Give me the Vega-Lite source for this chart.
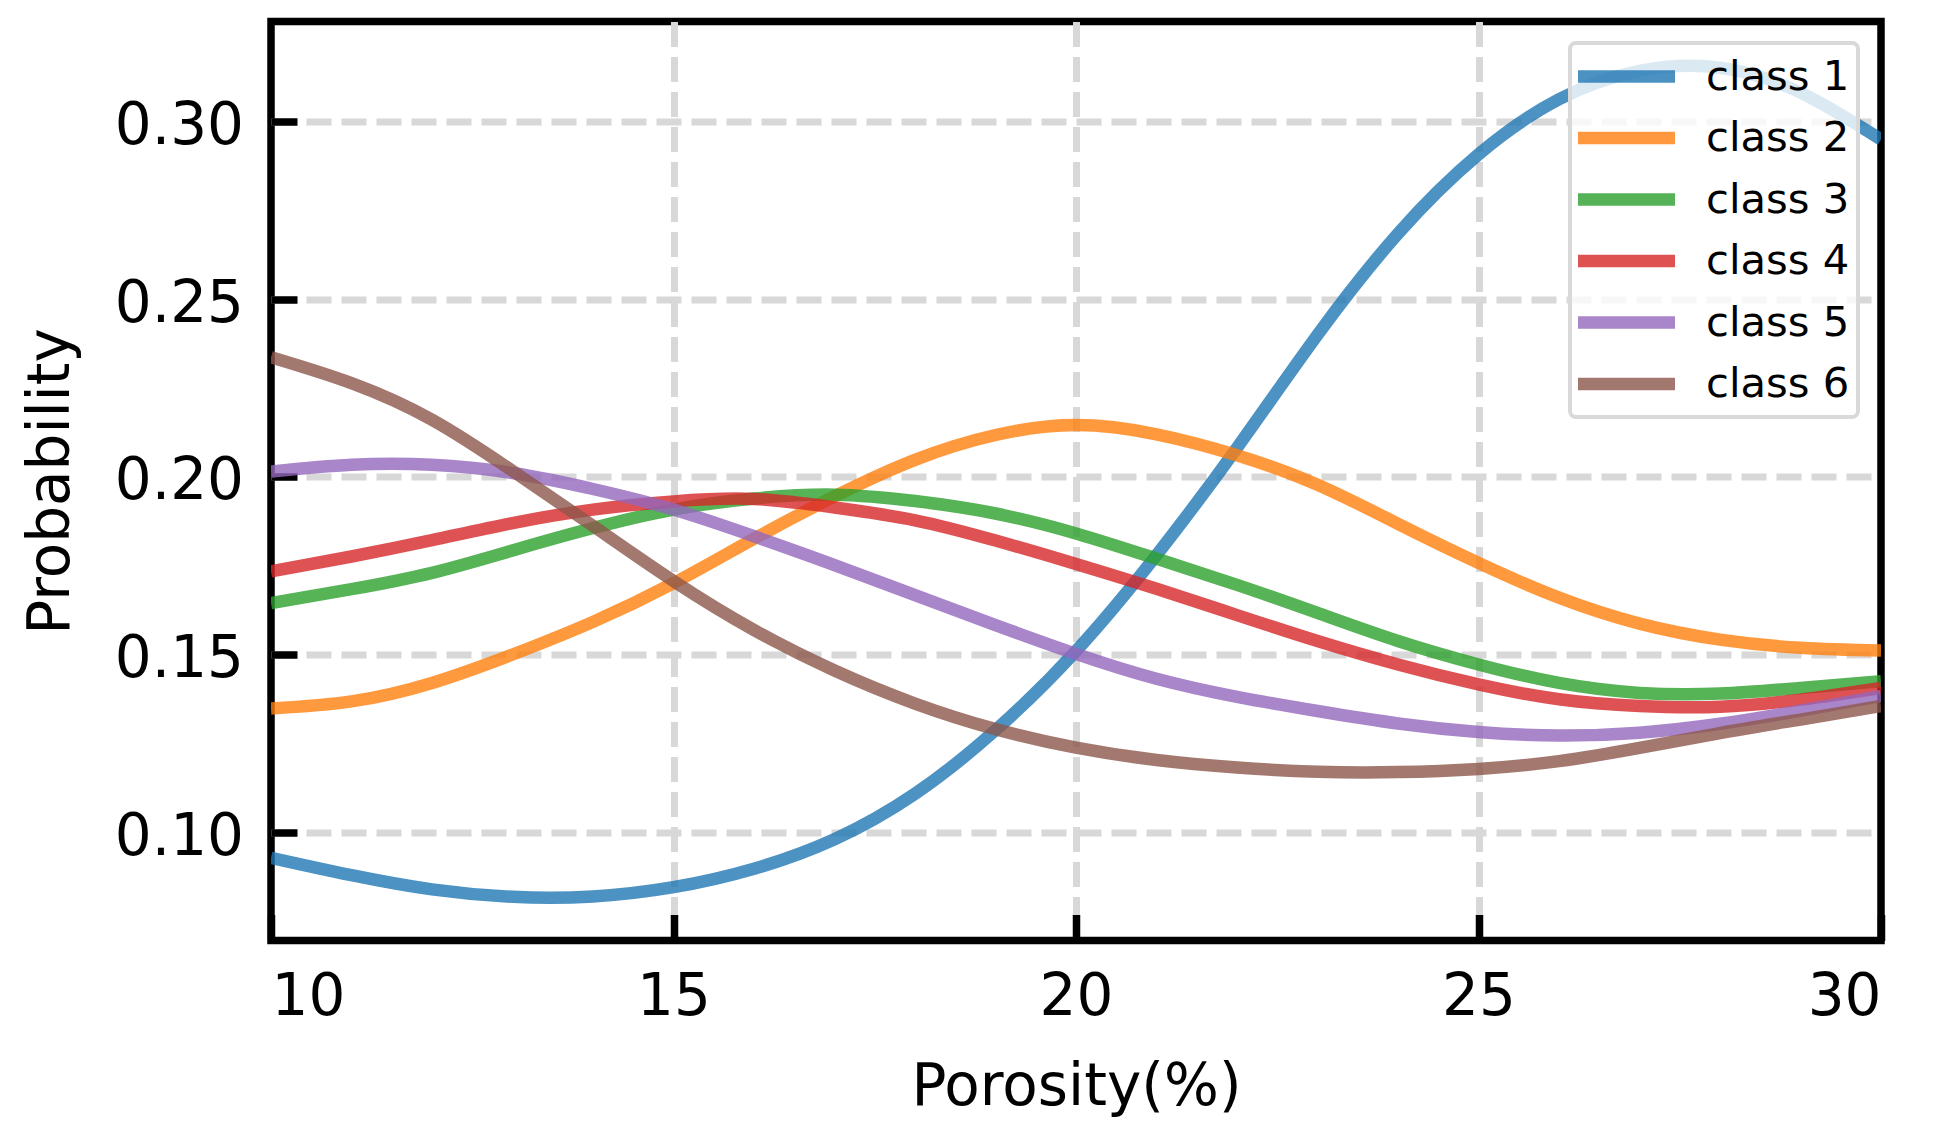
{
  "$schema": "https://vega.github.io/schema/vega-lite/v6.json",
  "width": 1610,
  "height": 919,
  "autosize": {"type": "none"},
  "padding": {"left": 271, "top": 21.5, "right": 53, "bottom": 196.5},
  "background": "white",
  "data": {
    "values": [
      {"class": "class 1", "porosity": 10, "probability": 0.0928},
      {"class": "class 1", "porosity": 11, "probability": 0.0879},
      {"class": "class 1", "porosity": 12, "probability": 0.0839},
      {"class": "class 1", "porosity": 13, "probability": 0.0818},
      {"class": "class 1", "porosity": 14, "probability": 0.0819},
      {"class": "class 1", "porosity": 15, "probability": 0.0845},
      {"class": "class 1", "porosity": 16, "probability": 0.0897},
      {"class": "class 1", "porosity": 17, "probability": 0.098},
      {"class": "class 1", "porosity": 18, "probability": 0.1108},
      {"class": "class 1", "porosity": 19, "probability": 0.1287},
      {"class": "class 1", "porosity": 20, "probability": 0.151},
      {"class": "class 1", "porosity": 21, "probability": 0.178},
      {"class": "class 1", "porosity": 22, "probability": 0.2082},
      {"class": "class 1", "porosity": 23, "probability": 0.24},
      {"class": "class 1", "porosity": 24, "probability": 0.2685},
      {"class": "class 1", "porosity": 25, "probability": 0.2908},
      {"class": "class 1", "porosity": 26, "probability": 0.3063},
      {"class": "class 1", "porosity": 27, "probability": 0.3143},
      {"class": "class 1", "porosity": 28, "probability": 0.3152},
      {"class": "class 1", "porosity": 29, "probability": 0.3082},
      {"class": "class 1", "porosity": 30, "probability": 0.295},
      {"class": "class 2", "porosity": 10, "probability": 0.1348},
      {"class": "class 2", "porosity": 11, "probability": 0.1368},
      {"class": "class 2", "porosity": 12, "probability": 0.142},
      {"class": "class 2", "porosity": 13, "probability": 0.15},
      {"class": "class 2", "porosity": 14, "probability": 0.1592},
      {"class": "class 2", "porosity": 15, "probability": 0.1701},
      {"class": "class 2", "porosity": 16, "probability": 0.1826},
      {"class": "class 2", "porosity": 17, "probability": 0.1945},
      {"class": "class 2", "porosity": 18, "probability": 0.2048},
      {"class": "class 2", "porosity": 19, "probability": 0.2118},
      {"class": "class 2", "porosity": 20, "probability": 0.2146},
      {"class": "class 2", "porosity": 21, "probability": 0.212},
      {"class": "class 2", "porosity": 22, "probability": 0.2061},
      {"class": "class 2", "porosity": 23, "probability": 0.1978},
      {"class": "class 2", "porosity": 24, "probability": 0.1868},
      {"class": "class 2", "porosity": 25, "probability": 0.1758},
      {"class": "class 2", "porosity": 26, "probability": 0.166},
      {"class": "class 2", "porosity": 27, "probability": 0.1587},
      {"class": "class 2", "porosity": 28, "probability": 0.1542},
      {"class": "class 2", "porosity": 29, "probability": 0.1519},
      {"class": "class 2", "porosity": 30, "probability": 0.1511},
      {"class": "class 3", "porosity": 10, "probability": 0.1645},
      {"class": "class 3", "porosity": 11, "probability": 0.1684},
      {"class": "class 3", "porosity": 12, "probability": 0.173},
      {"class": "class 3", "porosity": 13, "probability": 0.1793},
      {"class": "class 3", "porosity": 14, "probability": 0.1856},
      {"class": "class 3", "porosity": 15, "probability": 0.1908},
      {"class": "class 3", "porosity": 16, "probability": 0.1939},
      {"class": "class 3", "porosity": 17, "probability": 0.195},
      {"class": "class 3", "porosity": 18, "probability": 0.1932},
      {"class": "class 3", "porosity": 19, "probability": 0.1897},
      {"class": "class 3", "porosity": 20, "probability": 0.1841},
      {"class": "class 3", "porosity": 21, "probability": 0.177},
      {"class": "class 3", "porosity": 22, "probability": 0.1696},
      {"class": "class 3", "porosity": 23, "probability": 0.1617},
      {"class": "class 3", "porosity": 24, "probability": 0.1538},
      {"class": "class 3", "porosity": 25, "probability": 0.1472},
      {"class": "class 3", "porosity": 26, "probability": 0.142},
      {"class": "class 3", "porosity": 27, "probability": 0.1392},
      {"class": "class 3", "porosity": 28, "probability": 0.139},
      {"class": "class 3", "porosity": 29, "probability": 0.1406},
      {"class": "class 3", "porosity": 30, "probability": 0.1425},
      {"class": "class 4", "porosity": 10, "probability": 0.1734},
      {"class": "class 4", "porosity": 11, "probability": 0.1776},
      {"class": "class 4", "porosity": 12, "probability": 0.1822},
      {"class": "class 4", "porosity": 13, "probability": 0.187},
      {"class": "class 4", "porosity": 14, "probability": 0.1908},
      {"class": "class 4", "porosity": 15, "probability": 0.1931},
      {"class": "class 4", "porosity": 16, "probability": 0.1938},
      {"class": "class 4", "porosity": 17, "probability": 0.1914},
      {"class": "class 4", "porosity": 18, "probability": 0.1878},
      {"class": "class 4", "porosity": 19, "probability": 0.1821},
      {"class": "class 4", "porosity": 20, "probability": 0.1755},
      {"class": "class 4", "porosity": 21, "probability": 0.1685},
      {"class": "class 4", "porosity": 22, "probability": 0.1611},
      {"class": "class 4", "porosity": 23, "probability": 0.1538},
      {"class": "class 4", "porosity": 24, "probability": 0.1472},
      {"class": "class 4", "porosity": 25, "probability": 0.1416},
      {"class": "class 4", "porosity": 26, "probability": 0.1374},
      {"class": "class 4", "porosity": 27, "probability": 0.1355},
      {"class": "class 4", "porosity": 28, "probability": 0.1353},
      {"class": "class 4", "porosity": 29, "probability": 0.1373},
      {"class": "class 4", "porosity": 30, "probability": 0.1406},
      {"class": "class 5", "porosity": 10, "probability": 0.2015},
      {"class": "class 5", "porosity": 11, "probability": 0.2034},
      {"class": "class 5", "porosity": 12, "probability": 0.2034},
      {"class": "class 5", "porosity": 13, "probability": 0.2011},
      {"class": "class 5", "porosity": 14, "probability": 0.1966},
      {"class": "class 5", "porosity": 15, "probability": 0.1908},
      {"class": "class 5", "porosity": 16, "probability": 0.1833},
      {"class": "class 5", "porosity": 17, "probability": 0.1752},
      {"class": "class 5", "porosity": 18, "probability": 0.1667},
      {"class": "class 5", "porosity": 19, "probability": 0.1583},
      {"class": "class 5", "porosity": 20, "probability": 0.1502},
      {"class": "class 5", "porosity": 21, "probability": 0.1432},
      {"class": "class 5", "porosity": 22, "probability": 0.1381},
      {"class": "class 5", "porosity": 23, "probability": 0.1341},
      {"class": "class 5", "porosity": 24, "probability": 0.1306},
      {"class": "class 5", "porosity": 25, "probability": 0.1282},
      {"class": "class 5", "porosity": 26, "probability": 0.1272},
      {"class": "class 5", "porosity": 27, "probability": 0.128},
      {"class": "class 5", "porosity": 28, "probability": 0.1305},
      {"class": "class 5", "porosity": 29, "probability": 0.1342},
      {"class": "class 5", "porosity": 30, "probability": 0.1383},
      {"class": "class 6", "porosity": 10, "probability": 0.2337},
      {"class": "class 6", "porosity": 11, "probability": 0.2264},
      {"class": "class 6", "porosity": 12, "probability": 0.2161},
      {"class": "class 6", "porosity": 13, "probability": 0.2017},
      {"class": "class 6", "porosity": 14, "probability": 0.1862},
      {"class": "class 6", "porosity": 15, "probability": 0.1707},
      {"class": "class 6", "porosity": 16, "probability": 0.1569},
      {"class": "class 6", "porosity": 17, "probability": 0.1455},
      {"class": "class 6", "porosity": 18, "probability": 0.1362},
      {"class": "class 6", "porosity": 19, "probability": 0.129},
      {"class": "class 6", "porosity": 20, "probability": 0.1238},
      {"class": "class 6", "porosity": 21, "probability": 0.1203},
      {"class": "class 6", "porosity": 22, "probability": 0.1182},
      {"class": "class 6", "porosity": 23, "probability": 0.117},
      {"class": "class 6", "porosity": 24, "probability": 0.1169},
      {"class": "class 6", "porosity": 25, "probability": 0.1178},
      {"class": "class 6", "porosity": 26, "probability": 0.12},
      {"class": "class 6", "porosity": 27, "probability": 0.1237},
      {"class": "class 6", "porosity": 28, "probability": 0.1279},
      {"class": "class 6", "porosity": 29, "probability": 0.1317},
      {"class": "class 6", "porosity": 30, "probability": 0.1355}
    ]
  },
  "mark": {"type": "line", "interpolate": "natural", "strokeWidth": 12.5, "opacity": 0.8, "clip": true},
  "encoding": {
    "x": {
      "field": "porosity",
      "type": "quantitative",
      "scale": {"domain": [10, 30], "nice": false, "zero": false},
      "axis": {
        "title": "Porosity(%)",
        "values": [10, 15, 20, 25, 30],
        "format": "d",
        "labelPadding": 54,
        "titlePadding": 32,
        "gridOpacity": {"condition": {"test": "datum.value <= 10 || datum.value >= 30", "value": 0}, "value": 1}
      }
    },
    "y": {
      "field": "probability",
      "type": "quantitative",
      "scale": {"domain": [0.0695, 0.3282], "nice": false, "zero": false},
      "axis": {
        "title": "Probability",
        "values": [0.1, 0.15, 0.2, 0.25, 0.3],
        "format": ".2f",
        "labelPadding": 53.5,
        "labelOffset": 5,
        "titlePadding": 34
      }
    },
    "color": {
      "field": "class",
      "type": "nominal",
      "scale": {
        "domain": ["class 1", "class 2", "class 3", "class 4", "class 5", "class 6"],
        "range": ["#1f77b4", "#ff7f0e", "#2ca02c", "#d62728", "#9467bd", "#8c564b"]
      },
      "legend": {"title": null, "orient": "none", "legendX": 1299, "legendY": 21.5}
    }
  },
  "config": {
    "view": {"stroke": "black", "strokeWidth": 7.5},
    "axis": {
      "domain": false,
      "grid": true,
      "gridColor": "#d8d8d8",
      "gridWidth": 7,
      "gridDash": [25, 10],
      "ticks": true,
      "tickColor": "black",
      "tickWidth": 7.5,
      "tickSize": -26,
      "labelFont": "DejaVu Sans",
      "labelFontSize": 58,
      "labelColor": "black",
      "titleFont": "DejaVu Sans",
      "titleFontSize": 58,
      "titleFontWeight": "normal",
      "titleColor": "black"
    },
    "legend": {
      "symbolType": "M-2.546,0H2.546",
      "symbolSize": 1452,
      "symbolStrokeWidth": 12.5,
      "symbolOpacity": 0.8,
      "symbolOffset": 23,
      "labelFont": "DejaVu Sans",
      "labelFontSize": 41.7,
      "labelColor": "black",
      "labelOffset": 54,
      "labelLimit": 400,
      "rowPadding": 10.5,
      "padding": 8,
      "fillColor": "rgba(255,255,255,0.8)",
      "strokeColor": "#d9d9d9",
      "strokeWidth": 4,
      "cornerRadius": 6
    }
  }
}
